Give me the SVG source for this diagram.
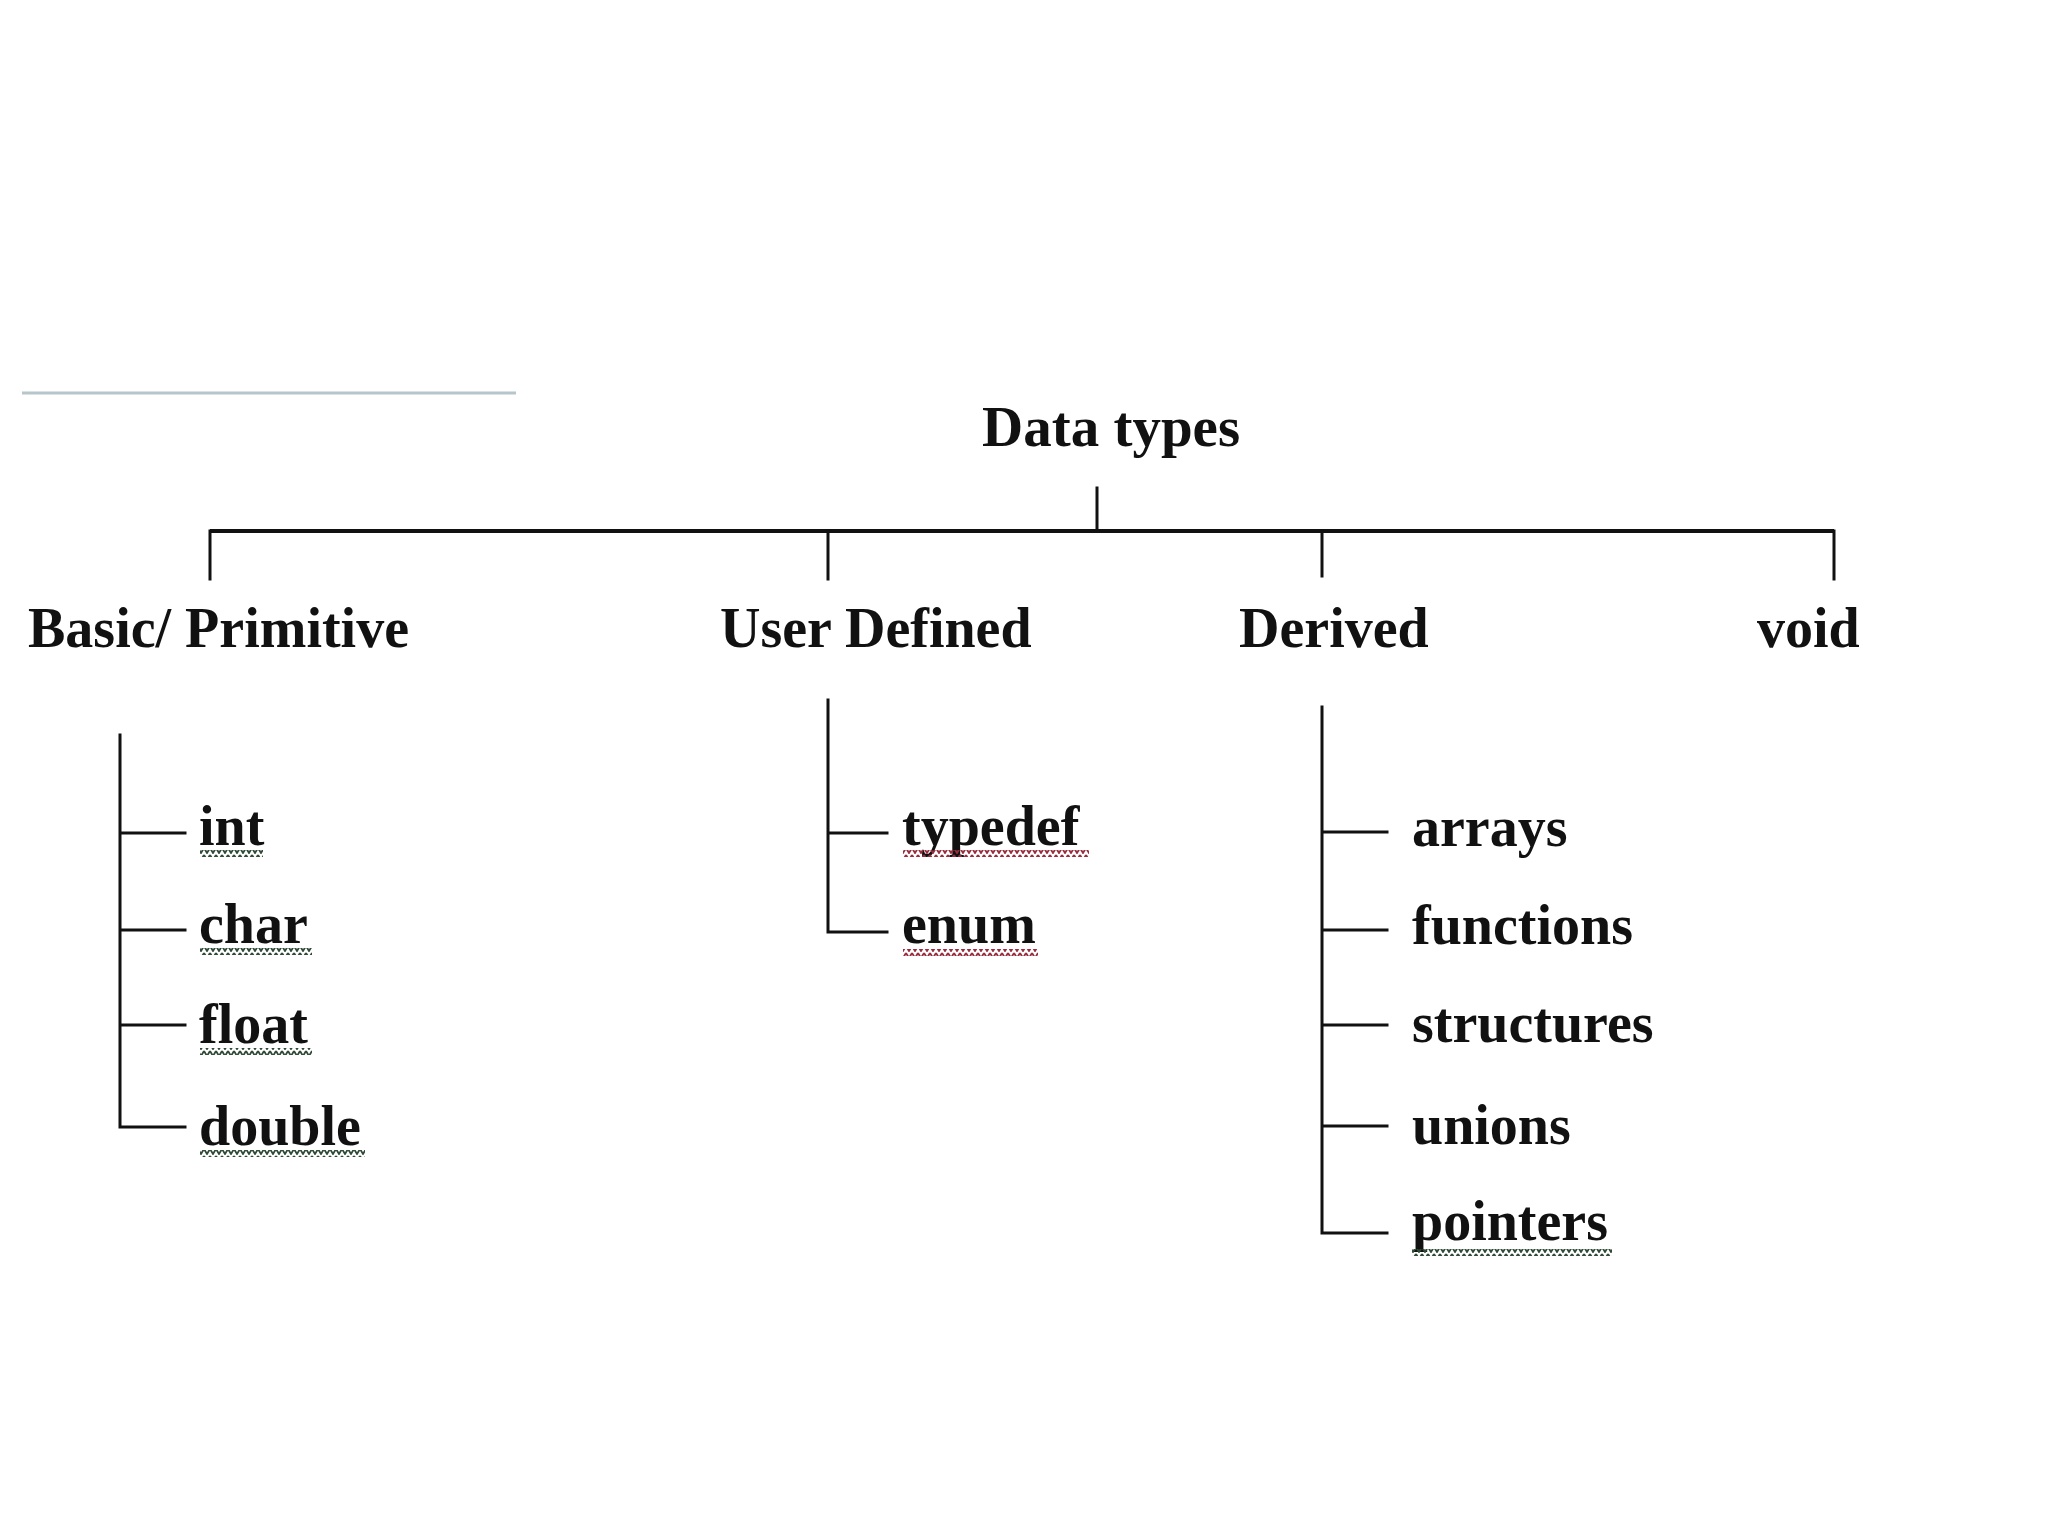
<svg xmlns="http://www.w3.org/2000/svg" width="2048" height="1536" viewBox="0 0 2048 1536">
<defs>
<style>
.t{font-family:"Liberation Serif","Times New Roman",serif;font-weight:bold;font-size:56px;fill:#111}
.ln{stroke:#111;stroke-width:3;fill:none;stroke-linecap:square}
.main{stroke:#111;stroke-width:4;fill:none}
</style>
<pattern id="sqg" patternUnits="userSpaceOnUse" width="6" height="7">
<path d="M0 1 L3 6 L6 1" fill="none" stroke="#2f4a36" stroke-width="1.8"/>
</pattern>
<pattern id="sqr" patternUnits="userSpaceOnUse" width="6" height="7">
<path d="M0 1 L3 6 L6 1" fill="none" stroke="#9a2b3c" stroke-width="1.8"/>
</pattern>
</defs>
<rect width="2048" height="1536" fill="#ffffff"/>
<line x1="22" y1="393" x2="516" y2="393" stroke="#b7c6ca" stroke-width="3"/>

<g id="connectors">
<line class="ln" x1="1097" y1="488" x2="1097" y2="531"/>
<line class="main" x1="210" y1="531" x2="1834" y2="531"/>
<line class="ln" x1="210" y1="531" x2="210" y2="579"/>
<line class="ln" x1="828" y1="531" x2="828" y2="579"/>
<line class="ln" x1="1322" y1="531" x2="1322" y2="576"/>
<line class="ln" x1="1834" y1="531" x2="1834" y2="579"/>
<path class="ln" d="M120 735 L120 1127 L185 1127 M120 833 L185 833 M120 930 L185 930 M120 1025 L185 1025"/>
<path class="ln" d="M828 700 L828 932 L887 932 M828 833 L887 833"/>
<path class="ln" d="M1322 707 L1322 1233 L1387 1233 M1322 832 L1387 832 M1322 930 L1387 930 M1322 1025 L1387 1025 M1322 1126 L1387 1126"/>
</g>

<g id="node-root"><text class="t" x="982" y="446" style="font-size:57px">Data types</text></g>
<g id="node-basic"><text class="t" x="28" y="647">Basic/ Primitive</text></g>
<g id="node-user"><text class="t" x="720" y="647">User Defined</text></g>
<g id="node-derived"><text class="t" x="1239" y="647">Derived</text></g>
<g id="node-void"><text class="t" x="1757" y="647">void</text></g>

<g id="node-int"><text class="t" x="199" y="845">int</text><rect x="200" y="850" width="63" height="7" fill="url(#sqg)"/></g>
<g id="node-char"><text class="t" x="199" y="943">char</text><rect x="200" y="948" width="112" height="7" fill="url(#sqg)"/></g>
<g id="node-float"><text class="t" x="199" y="1043">float</text><rect x="200" y="1048" width="112" height="7" fill="url(#sqg)"/></g>
<g id="node-double"><text class="t" x="199" y="1145">double</text><rect x="200" y="1150" width="165" height="7" fill="url(#sqg)"/></g>

<g id="node-typedef"><text class="t" x="902" y="845">typedef</text><rect x="903" y="850" width="186" height="7" fill="url(#sqr)"/></g>
<g id="node-enum"><text class="t" x="902" y="943">enum</text><rect x="903" y="949" width="135" height="7" fill="url(#sqr)"/></g>

<g id="node-arrays"><text class="t" x="1412" y="846">arrays</text></g>
<g id="node-functions"><text class="t" x="1412" y="944">functions</text></g>
<g id="node-structures"><text class="t" x="1412" y="1042">structures</text></g>
<g id="node-unions"><text class="t" x="1412" y="1144">unions</text></g>
<g id="node-pointers"><text class="t" x="1412" y="1240">pointers</text><rect x="1412" y="1249" width="200" height="7" fill="url(#sqg)"/></g>
</svg>
